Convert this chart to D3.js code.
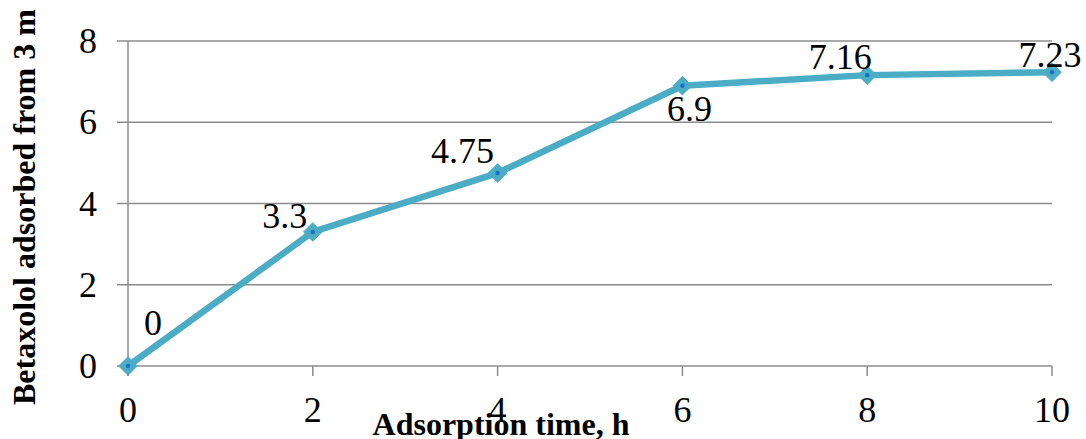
<!DOCTYPE html>
<html>
<head>
<meta charset="utf-8">
<script src="https://cdn.jsdelivr.net/npm/d3@7"></script>
<style>
  body { margin: 0; background: #fff; }
  svg { display: block; }
  text { font-family: "Liberation Serif", "DejaVu Serif", serif; fill: #000; }
</style>
</head>
<body>
<svg id="chart" width="1086" height="439"></svg>
<script>
// data
const hours = [0, 2, 4, 6, 8, 10]
const adsorbed = [0, 3.3, 4.75, 6.9, 7.16, 7.23]
const labels = ["0", "3.3", "4.75", "6.9", "7.16", "7.23"]
const xTicks = [0, 2, 4, 6, 8, 10]
const yTicks = [0, 2, 4, 6, 8]

// label placement relative to each point (the original places them by hand)
const labelDx = [25, -28, -35, 7, -27, -2]
const labelDy = [-31, -4, -10, 35, -6, -5]

const svg = d3.select("#chart")
const grey = "#8c8c8c"
const lineColor = "#4bacc6"

const x = d3.scaleLinear().domain([0, 10]).range([128, 1052])
const y = d3.scaleLinear().domain([0, 8]).range([366, 41])

// horizontal gridlines + y ticks
svg.append("g")
  .selectAll("line")
  .data(yTicks)
  .enter()
  .append("line")
  .attr("x1", 117)
  .attr("x2", x(10))
  .attr("y1", d => y(d))
  .attr("y2", d => y(d))
  .attr("stroke", grey)
  .attr("stroke-width", 1.5)

// y axis line
svg.append("line")
  .attr("x1", x(0)).attr("x2", x(0))
  .attr("y1", y(8)).attr("y2", y(0) + 10)
  .attr("stroke", grey)
  .attr("stroke-width", 1.5)

// x ticks
svg.append("g")
  .selectAll("line")
  .data(xTicks)
  .enter()
  .append("line")
  .attr("x1", d => x(d))
  .attr("x2", d => x(d))
  .attr("y1", y(0))
  .attr("y2", y(0) + 10)
  .attr("stroke", grey)
  .attr("stroke-width", 1.5)

// tick labels
svg.append("g")
  .selectAll("text")
  .data(yTicks)
  .enter()
  .append("text")
  .attr("x", 97)
  .attr("y", d => y(d) + 12)
  .attr("text-anchor", "end")
  .attr("font-size", 36)
  .text(d => d)

svg.append("g")
  .selectAll("text")
  .data(xTicks)
  .enter()
  .append("text")
  .attr("x", d => x(d))
  .attr("y", 422)
  .attr("text-anchor", "middle")
  .attr("font-size", 36)
  .text(d => d)

// axis titles
svg.append("text")
  .attr("x", 501)
  .attr("y", 435)
  .attr("text-anchor", "middle")
  .attr("font-size", 32)
  .attr("font-weight", "bold")
  .text("Adsorption time, h")

svg.append("text")
  .attr("transform", "translate(35,405) rotate(-90)")
  .attr("text-anchor", "start")
  .attr("font-size", 32)
  .attr("font-weight", "bold")
  .text("Betaxolol adsorbed from 3 m")

// the series
const pts = hours.map((h, i) => [h, adsorbed[i]])

const toLine = d3.line()
  .x(d => x(d[0]))
  .y(d => y(d[1]))

svg.append("path")
  .datum(pts)
  .attr("d", toLine)
  .attr("fill", "none")
  .attr("stroke", lineColor)
  .attr("stroke-width", 6.5)
  .attr("stroke-linejoin", "round")

const marks = svg.append("g")
  .selectAll("g")
  .data(pts)
  .enter()
  .append("g")
  .attr("transform", d => "translate(" + x(d[0]) + "," + y(d[1]) + ")")

marks.append("path")
  .attr("d", d3.symbol().type(d3.symbolDiamond2).size(220))
  .attr("fill", lineColor)
  .attr("stroke", lineColor)
  .attr("stroke-width", 1)
  .attr("stroke-linejoin", "round")

marks.append("circle")
  .attr("r", 2.2)
  .attr("fill", "#1a6fc4")

// data labels
svg.append("g")
  .selectAll("text")
  .data(pts)
  .enter()
  .append("text")
  .attr("x", (d, i) => x(d[0]) + labelDx[i])
  .attr("y", (d, i) => y(d[1]) + labelDy[i])
  .attr("text-anchor", "middle")
  .attr("font-size", 36)
  .text((d, i) => labels[i])
</script>
</body>
</html>
